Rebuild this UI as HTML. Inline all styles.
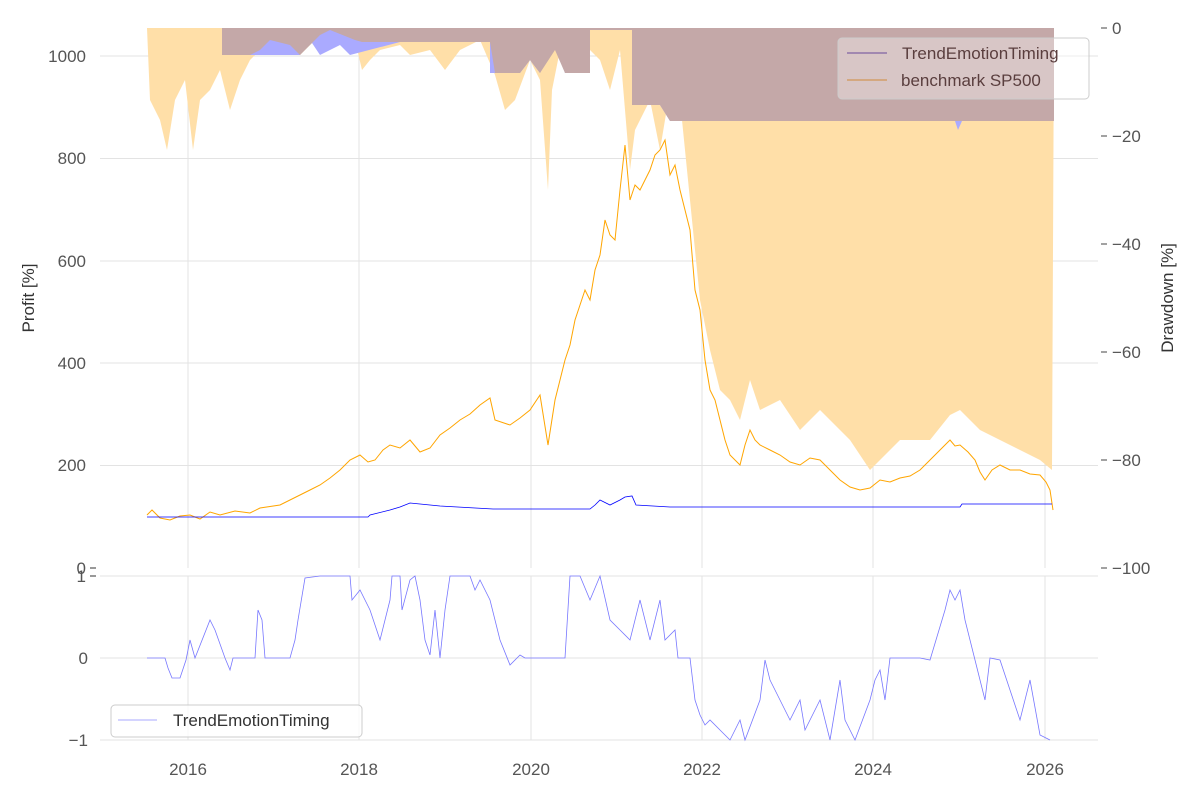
<!DOCTYPE html>
<html><head><meta charset="utf-8"><style>
body{margin:0;background:#fff}
svg{display:block;font-family:"Liberation Sans","DejaVu Sans",sans-serif}
</style></head><body>
<svg width="1200" height="800" viewBox="0 0 1200 800">
<g stroke="#e3e3e3" stroke-width="1">
<line x1="188" y1="28" x2="188" y2="568"/><line x1="359" y1="28" x2="359" y2="568"/><line x1="531" y1="28" x2="531" y2="568"/><line x1="702" y1="28" x2="702" y2="568"/><line x1="873" y1="28" x2="873" y2="568"/><line x1="1045" y1="28" x2="1045" y2="568"/>
<line x1="100" y1="56" x2="1098" y2="56"/><line x1="100" y1="158.5" x2="1098" y2="158.5"/><line x1="100" y1="261" x2="1098" y2="261"/><line x1="100" y1="363" x2="1098" y2="363"/><line x1="100" y1="465.5" x2="1098" y2="465.5"/>
<line x1="188" y1="576" x2="188" y2="740"/><line x1="359" y1="576" x2="359" y2="740"/><line x1="531" y1="576" x2="531" y2="740"/><line x1="702" y1="576" x2="702" y2="740"/><line x1="873" y1="576" x2="873" y2="740"/><line x1="1045" y1="576" x2="1045" y2="740"/>
<line x1="100" y1="576" x2="1098" y2="576"/><line x1="100" y1="658" x2="1098" y2="658"/><line x1="100" y1="740" x2="1098" y2="740"/>
</g>
<polygon fill="#ffdfa8" points="147,28 150,100 160,120 167,150 175,100 185,80 193,150 200,100 210,90 220,70 230,110 240,80 250,60 260,50 270,40 290,45 300,55 320,35 330,30 355,40 362,70 370,60 380,50 400,45 410,55 430,50 445,70 460,50 480,40 495,75 505,110 515,100 530,60 540,80 548,190 552,90 560,50 580,40 600,60 610,90 620,50 630,170 635,130 650,100 660,150 670,90 680,100 690,200 700,300 710,350 720,390 730,400 740,420 750,380 760,410 780,400 800,430 820,410 850,440 870,470 880,460 900,440 930,440 950,415 960,410 980,430 1000,440 1020,450 1040,460 1052,470 1054,28"/>
<polygon fill="#aaaaff" points="222,28 222,55 300,55 310,40 320,55 340,45 350,55 400,42 490,42 490,73 520,73 530,60 540,73 555,40 565,73 590,73 590,30 632,30 632,105 645,100 655,60 660,105 670,121 955,121 958,130 962,121 1054,121 1054,28"/>
<polygon fill="#c4a8a8" points="222,28 222,55 240,55 250,55 260,50 270,40 290,45 300,55 320,35 330,30 355,40 362,42 400,42 490,42 495,73 520,73 530,60 540,73 555,50 565,73 590,73 590,30 632,30 632,105 660,105 670,121 955,121 960,121 1054,121 1054,28"/>
<polyline fill="none" stroke="#ffa500" stroke-width="1" points="147,515 152,510 160,518 170,520 180,516 190,515 200,519 210,512 220,515 235,511 250,513 260,508 280,505 300,495 310,490 320,485 330,478 340,470 350,460 360,455 368,462 375,460 383,450 390,445 400,448 410,440 420,452 430,448 440,435 450,428 460,420 470,414 480,405 490,398 495,420 510,425 520,418 530,410 540,395 548,445 555,400 565,360 570,345 575,320 580,305 585,290 590,300 595,270 600,255 605,220 610,235 615,240 620,190 625,145 630,200 635,185 640,190 645,180 650,170 655,155 660,150 665,140 670,175 675,165 680,190 685,210 690,230 695,290 700,310 705,360 710,390 715,400 720,420 725,440 730,455 735,460 740,465 745,445 750,430 755,440 760,445 770,450 780,455 790,462 800,465 810,458 820,460 830,470 840,480 850,487 860,490 870,488 880,480 890,482 900,478 910,476 920,470 928,462 935,455 942,448 950,440 955,446 960,445 968,452 975,460 980,472 985,480 992,470 1000,465 1010,470 1020,470 1030,474 1040,475 1046,482 1050,490 1053,510"/>
<polyline fill="none" stroke="#0000ff" stroke-width="0.8" points="147,517 368,517 370,515 390,510 400,507 410,503 420,504 430,505 440,506 493,509 590,509 595,505 600,500 610,505 620,500 625,497 632,496 636,505 670,507 960,507 962,504 1052,504"/>
<polyline fill="none" stroke="#7777ff" stroke-width="0.8" points="147,658 165,658 168,668 172,678 180,678 186,660 190,640 195,658 210,620 215,630 225,658 230,670 233,658 255,658 258,610 262,620 265,658 290,658 295,640 298,620 305,578 320,576 350,576 352,600 360,590 370,610 380,640 385,620 390,600 392,576 400,576 402,610 410,580 415,576 420,600 425,640 430,655 435,610 440,658 445,610 450,576 470,576 475,590 480,580 490,600 500,640 510,665 520,655 525,658 565,658 570,576 580,576 590,600 600,576 610,620 620,630 630,640 640,600 650,640 660,600 665,640 675,630 678,658 690,658 695,700 700,715 705,725 710,720 720,730 730,740 740,720 745,740 760,700 765,660 770,680 780,700 790,720 800,700 805,730 820,700 830,740 840,680 845,720 855,740 870,700 875,680 880,670 885,700 890,658 920,658 930,660 945,610 950,590 955,600 960,590 965,620 970,640 975,660 980,680 985,700 990,658 1000,660 1010,690 1020,720 1030,680 1040,735 1050,740"/>
<rect x="838" y="38" width="251" height="61" rx="4" fill="#fff" fill-opacity="0.35" stroke="#cccccc"/>
<line x1="847" y1="53" x2="887" y2="53" stroke="#6a4a9a" stroke-width="1"/>
<line x1="847" y1="80" x2="887" y2="80" stroke="#d08a3a" stroke-width="1"/>
<g font-size="17" fill="#5a3e3e"><text x="902" y="59">TrendEmotionTiming</text><text x="901" y="86">benchmark SP500</text></g>
<rect x="111" y="705" width="251" height="32" rx="4" fill="#fff" fill-opacity="0.8" stroke="#cccccc"/>
<line x1="118" y1="720" x2="157" y2="720" stroke="#aaaaff" stroke-width="1"/>
<text x="173" y="726" font-size="17" fill="#333">TrendEmotionTiming</text>
<g font-size="17" fill="#555" text-anchor="end">
<text x="86" y="62">1000</text><text x="86" y="164">800</text><text x="86" y="267">600</text><text x="86" y="369">400</text><text x="86" y="471">200</text><text x="86" y="574">0</text>
<text x="86" y="582">1</text><text x="88" y="664">0</text><text x="88" y="746">−1</text>
</g>
<g stroke="#333" stroke-width="1"><line x1="90" y1="568" x2="96" y2="568"/><line x1="90" y1="576" x2="96" y2="576"/></g>
<g font-size="17" fill="#555">
<text x="1112" y="34">0</text><text x="1112" y="142">−20</text><text x="1112" y="250">−40</text><text x="1112" y="358">−60</text><text x="1112" y="466">−80</text><text x="1112" y="574">−100</text>
</g>
<g stroke="#444" stroke-width="1"><line x1="1101" y1="28" x2="1107" y2="28"/><line x1="1101" y1="136" x2="1107" y2="136"/><line x1="1101" y1="244" x2="1107" y2="244"/><line x1="1101" y1="352" x2="1107" y2="352"/><line x1="1101" y1="460" x2="1107" y2="460"/><line x1="1101" y1="568" x2="1107" y2="568"/></g>
<g font-size="17" fill="#555" text-anchor="middle">
<text x="188" y="775">2016</text><text x="359" y="775">2018</text><text x="531" y="775">2020</text><text x="702" y="775">2022</text><text x="873" y="775">2024</text><text x="1045" y="775">2026</text>
</g>
<text transform="translate(34,298) rotate(-90)" font-size="17" fill="#333" text-anchor="middle">Profit [%]</text>
<text transform="translate(1173,298) rotate(-90)" font-size="17" fill="#333" text-anchor="middle">Drawdown [%]</text>
</svg>
</body></html>
